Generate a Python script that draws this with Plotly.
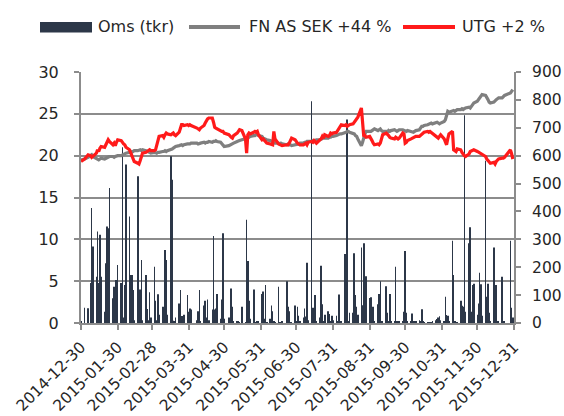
import pandas as pd
import plotly.graph_objects as go

# ---- data ----
start_date = "2014-12-30"
end_date = "2015-12-31"
holidays = ["2014-12-31", "2015-01-01", "2015-01-06", "2015-04-03", "2015-04-06",
            "2015-05-01", "2015-05-14", "2015-06-19", "2015-12-24", "2015-12-25",
            "2015-12-31"]

tick_labels = ["2014-12-30", "2015-01-30", "2015-02-28", "2015-03-31", "2015-04-30",
               "2015-05-31", "2015-06-30", "2015-07-31", "2015-08-31", "2015-09-30",
               "2015-10-31", "2015-11-30", "2015-12-31"]

series_names = ["Oms (tkr)", "FN AS SEK +44 %", "UTG +2 %"]

# turnover (tkr), right axis
oms = [5,
       55, 53, 143, 412, 274, 166, 328, 143, 316, 166, 40, 214, 346, 340, 484, 89, 130, 154, 154, 208,
       143, 630, 20, 136, 568, 382, 172, 172, 118, 10, 526, 118, 120, 226, 10, 172, 50, 10, 110, 20,
       202, 80, 10, 103, 30, 58, 58, 262, 226, 30, 598, 514, 8, 5, 20, 70, 118, 25, 25, 30, 100, 40,
       52, 48, 10, 42, 118, 5, 63, 80, 20, 84, 10, 48, 312, 48, 52, 104, 15, 84, 322, 15,
       20, 5, 124, 58, 5, 5, 5, 3, 58, 2, 370, 222, 80, 15, 120, 3, 3, 5, 5,
       104, 113, 15, 136, 3, 15, 63, 42, 5, 3, 130, 3, 2, 5, 150, 58, 42, 3, 3, 63, 5,
       58, 26, 5, 20, 52, 23, 216, 10, 795, 55, 5, 100, 5, 20, 205, 67, 5, 30, 42, 32, 5, 26, 10,
       26, 5, 102, 5, 5, 247, 5, 730, 5, 37, 37, 250, 100, 58, 30, 271, 64, 286, 15, 168, 90,
       92, 5, 58, 5, 67, 104, 150, 5, 5, 132, 37, 5, 104, 5, 5, 202, 5, 5, 5, 5, 40, 258,
       37, 5, 5, 34, 5, 5, 5, 10, 5, 49, 5, 3, 3, 3, 3, 3, 5, 10, 14, 20, 24, 10,
       5, 94, 29, 26, 5, 295, 172, 5, 3, 3, 80, 62, 58, 745, 40, 286, 343, 40, 136, 141, 30,
       70, 180, 139, 26, 582, 94, 141, 37, 5, 271, 18, 136, 5, 5, 166, 5, 5, 295, 55, 20]

# index line, left axis
fn_sek = [19.5,
          19.6, 19.8, 20.0, 20.1, 19.9, 19.7, 19.6, 19.5, 19.6, 19.7, 19.6, 19.7, 19.8, 19.8, 19.9, 19.9, 19.8, 19.9, 20.0, 20.0,
          20.0, 20.1, 20.2, 20.3, 20.3, 20.4, 20.5, 20.4, 20.5, 20.6, 20.6, 20.7, 20.7, 20.6, 20.7, 20.6, 20.5, 20.4, 20.4, 20.3,
          20.4, 20.3, 20.3, 20.4, 20.4, 20.5, 20.5, 20.6, 20.5, 20.6, 20.7, 20.8, 20.9, 21.0, 21.1, 21.2, 21.3, 21.3, 21.2, 21.3, 21.4, 21.4,
          21.4, 21.5, 21.5, 21.4, 21.5, 21.5, 21.6, 21.5, 21.6, 21.6, 21.7, 21.6, 21.7, 21.7, 21.8, 21.7, 21.6, 21.4, 21.2, 21.1,
          21.2, 21.3, 21.3, 21.4, 21.5, 21.7, 21.8, 21.8, 21.9, 22.0, 22.0, 22.1, 22.2, 22.3, 22.4, 22.4, 22.5, 22.5, 22.4,
          22.3, 22.1, 22.0, 21.9, 21.9, 21.8, 21.7, 21.6, 21.6, 21.5, 21.5, 21.4, 21.5, 21.4, 21.3, 21.4, 21.3, 21.3, 21.2, 21.3, 21.3,
          21.3, 21.4, 21.5, 21.5, 21.6, 21.6, 21.7, 21.7, 21.7, 21.8, 21.7, 21.8, 21.9, 21.9, 22.0, 22.0, 22.1, 22.1, 22.1, 22.2, 22.2, 22.3, 22.3,
          22.4, 22.5, 22.5, 22.6, 22.6, 22.7, 22.8, 22.9, 22.9, 22.8, 22.7, 22.6, 22.4, 22.3, 22.0, 21.2, 21.6, 22.2, 22.6, 22.9, 22.9,
          22.9, 23.0, 23.1, 23.2, 23.0, 23.1, 23.2, 23.0, 22.9, 22.9, 22.8, 23.0, 22.9, 23.0, 23.1, 23.0, 22.9, 23.0, 23.1, 23.1, 23.0, 22.9,
          22.9, 23.0, 22.9, 22.9, 22.8, 22.9, 23.0, 23.1, 23.3, 23.5, 23.5, 23.6, 23.7, 23.8, 23.9, 23.9, 23.8, 23.9, 24.0, 23.9, 23.8, 23.9,
          24.1, 24.3, 24.8, 25.3, 25.2, 25.3, 25.4, 25.3, 25.4, 25.5, 25.5, 25.6, 25.5, 25.6, 25.7, 25.8, 25.7, 25.9, 26.1, 26.3, 26.5,
          26.7, 26.9, 27.1, 27.3, 27.2, 27.0, 26.7, 26.4, 26.3, 26.4, 26.6, 26.7, 26.8, 26.9, 26.9, 27.0, 27.2, 27.5, 27.7, 27.9]

# share price, left axis
utg = [19.3,
       19.6, 20.1, 20.0, 19.8, 19.9, 20.3, 20.7, 20.5, 20.9, 21.1, 21.0, 21.3, 21.6, 21.9, 21.7, 21.3, 21.5, 21.2, 21.6, 21.9,
       21.8, 21.5, 21.4, 21.3, 21.0, 20.7, 20.4, 20.0, 19.6, 19.3, 19.1, 19.0, 19.4, 19.9, 20.3, 20.4, 20.5, 20.6, 20.7, 20.6,
       20.6, 20.7, 21.2, 21.8, 22.3, 22.4, 22.2, 22.5, 22.7, 22.6, 22.5, 22.6, 22.7, 22.5, 22.4, 22.8, 23.2, 23.7, 23.7, 23.6, 23.7, 23.6,
       23.7, 23.6, 23.3, 23.2, 23.1, 23.3, 23.6, 23.9, 24.2, 24.4, 24.5, 24.5, 24.0, 23.4, 23.3, 23.2, 23.0, 22.9, 22.9, 22.7,
       22.5, 22.3, 22.2, 22.1, 22.4, 22.7, 22.9, 23.1, 23.0, 22.0, 20.3, 22.5, 22.7, 22.6, 22.8, 22.9, 22.8, 22.9, 22.5,
       21.9, 22.0, 21.8, 21.6, 21.5, 21.4, 21.3, 21.3, 22.9, 22.0, 21.4, 21.3, 21.3, 21.2, 21.3, 21.3, 21.5, 21.9, 22.1, 21.9, 21.6,
       21.5, 21.4, 21.3, 21.3, 21.4, 21.5, 21.3, 21.6, 21.7, 21.6, 21.8, 21.7, 21.5, 21.9, 22.0, 22.3, 22.1, 22.5, 22.3, 22.4, 22.7, 22.6, 22.7,
       22.8, 23.0, 23.3, 23.5, 23.7, 23.6, 23.7, 23.5, 23.6, 23.7, 23.8, 24.0, 24.2, 24.3, 24.6, 25.7, 23.5, 22.3, 22.4, 22.2, 22.3,
       22.1, 21.8, 21.5, 21.3, 21.4, 21.3, 21.5, 22.0, 22.5, 22.7, 22.6, 22.4, 22.2, 22.1, 22.0, 22.2, 22.1, 22.0, 22.1, 22.7, 22.6, 21.5,
       21.6, 21.8, 22.0, 22.1, 22.2, 22.2, 22.3, 22.3, 22.4, 22.5, 22.6, 22.8, 22.9, 22.8, 22.9, 22.8, 22.6, 22.4, 22.2, 22.1, 22.3, 22.5,
       22.0, 21.6, 21.3, 22.0, 22.6, 22.9, 20.7, 20.6, 20.5, 20.8, 20.7, 20.4, 20.1, 20.0, 19.9, 20.2, 20.5, 20.6, 20.7, 20.7, 20.5,
       20.4, 20.3, 20.2, 20.1, 19.9, 19.6, 19.4, 19.2, 19.1, 19.2, 19.0, 19.3, 19.5, 19.6, 19.7, 19.7, 19.8, 20.7, 20.2, 19.6]

# ---- build ----
dates = pd.bdate_range(start_date, end_date, freq="C", holidays=holidays)
n = min(len(dates), len(oms), len(fn_sek), len(utg))
dates = dates[:n]

FONT = "DejaVu Sans"
BAR_C = "#2c3748"
GRAY_C = "#7f7f7f"
RED_C = "#ff1a1a"
AXIS_C = "#8c8c8c"
TXT_C = "#262626"

fig = go.Figure()
fig.add_trace(go.Bar(x=dates, y=oms[:n], name=series_names[0], yaxis="y",
                     marker=dict(color=BAR_C, line=dict(width=0)), showlegend=False))
fig.add_trace(go.Scatter(x=dates, y=fn_sek[:n], name=series_names[1], yaxis="y2", mode="lines",
                         line=dict(color=GRAY_C, width=3.2), showlegend=False))
fig.add_trace(go.Scatter(x=dates, y=utg[:n], name=series_names[2], yaxis="y2", mode="lines",
                         line=dict(color=RED_C, width=3.2), showlegend=False))

fig.update_layout(
    width=564, height=416,
    margin=dict(l=81, r=50, t=72, b=93),
    paper_bgcolor="white", plot_bgcolor="white",
    bargap=0.5,
    font=dict(family=FONT, size=16, color=TXT_C),
    xaxis=dict(type="date", range=[start_date, end_date], automargin=False,
               tickmode="array", tickvals=tick_labels, ticktext=tick_labels,
               tickangle=-45, ticks="outside", ticklen=5, tickwidth=1.5, tickcolor=AXIS_C,
               showline=True, linecolor=AXIS_C, linewidth=2, showgrid=False, zeroline=False,
               ticklabelstandoff=2,
               tickfont=dict(family=FONT, size=15.5, color=TXT_C)),
    yaxis=dict(side="right", range=[0, 900], dtick=100, tick0=0, automargin=False,
               ticks="outside", ticklen=5, tickwidth=1.5, tickcolor=AXIS_C,
               showline=True, linecolor=AXIS_C, linewidth=2, showgrid=False, zeroline=False,
               ticklabelstandoff=8,
               tickfont=dict(family=FONT, size=15.5, color=TXT_C)),
    yaxis2=dict(side="left", overlaying="y", range=[0, 30], dtick=5, tick0=0, automargin=False,
                ticks="outside", ticklen=5, tickwidth=1.5, tickcolor=AXIS_C,
                showline=True, linecolor=AXIS_C, linewidth=2,
                showgrid=True, gridcolor=AXIS_C, gridwidth=1.5, zeroline=False,
                ticklabelstandoff=12,
                tickfont=dict(family=FONT, size=16, color=TXT_C)),
)

# ---- legend (drawn at top, like the reference) ----
plot_w = 564 - 81 - 50
plot_h = 416 - 72 - 93


def px_x(p):
    return (p - 81) / plot_w


def px_y(p):
    return (416 - 93 - p) / plot_h


ly = px_y(27)
fig.add_shape(type="rect", xref="paper", yref="paper",
              x0=px_x(40), x1=px_x(92), y0=px_y(32.5), y1=px_y(22),
              fillcolor=BAR_C, line=dict(width=0))
fig.add_shape(type="line", xref="paper", yref="paper",
              x0=px_x(189), x1=px_x(240), y0=ly, y1=ly, line=dict(color=GRAY_C, width=4))
fig.add_shape(type="line", xref="paper", yref="paper",
              x0=px_x(403), x1=px_x(455), y0=ly, y1=ly, line=dict(color=RED_C, width=4))
for name, xpos in zip(series_names, [96, 247, 460]):
    fig.add_annotation(text=name, xref="paper", yref="paper", x=px_x(xpos), y=ly,
                       xanchor="left", yanchor="middle", showarrow=False,
                       font=dict(family=FONT, size=16, color=TXT_C))

fig.write_html("out.html", config={"displayModeBar": False},
               post_script="document.body.style.margin='0';document.body.style.overflow='hidden';")
